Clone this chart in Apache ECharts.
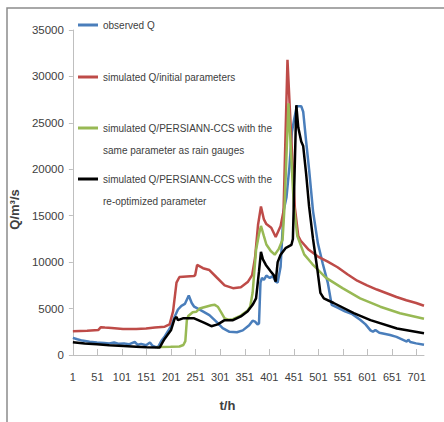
<!DOCTYPE html>
<html>
<head>
<meta charset="utf-8">
<script src="https://cdn.jsdelivr.net/npm/echarts@6/dist/echarts.min.js"></script>
<style>html,body{margin:0;padding:0;background:#fff}#c{width:444px;height:422px}</style>
</head>
<body>
<div id="c"></div>
<script>
var xTickLabels = [1, 51, 101, 151, 201, 251, 301, 351, 401, 451, 501, 551, 601, 651, 701];
var yTicks = [0, 5000, 10000, 15000, 20000, 25000, 30000, 35000];
var seriesNames = ['observed Q', 'simulated Q/initial parameters', 'simulated Q/PERSIANN-CCS with the\nsame parameter as rain gauges', 'simulated Q/PERSIANN-CCS with the\nre-optimized parameter'];

var obsHours = [1,10,20,35,50,56,65,75,85,95,105,115,127,133,140,150,158,163,170,175,181,188,195,201,208,215,222,229,237,243,248,262,279,293,306,320,335,347,360,367,372,377,380,383,386,390,395,402,408,414,418,424,430,436,442,447,452,457,466,470,476,482,490,500,510,520,528,540,555,570,586,597,607,612,617,625,647,660,681,684,688,700,716];
var obsQ = [1850,1700,1550,1430,1350,1330,1300,1250,1350,1200,1250,1150,1400,1100,1200,1050,1350,1000,850,900,1500,2000,2600,3100,4100,4900,5300,5500,6400,5600,5200,4800,4300,3600,2900,2500,2450,2650,3200,3700,3600,3300,3400,7800,8300,8100,8550,8300,8500,7900,7800,9500,15500,17000,20300,24000,25500,26800,26800,26200,23000,20000,15500,12000,9800,7800,5400,5100,4700,4400,3800,3300,2650,2500,2700,2400,2150,1950,1450,1650,1400,1250,1100];

var initHours = [1,30,53,58,66,80,103,130,150,168,188,198,205,212,218,247,250,254,266,279,293,310,327,343,357,366,372,378,384,390,395,405,414,424,430,438,446,453,460,465,480,500,520,540,560,580,600,620,640,660,680,700,716];
var initQ = [2550,2600,2700,3000,2950,2900,2800,2800,2850,2950,3050,3300,4700,7800,8400,8500,8600,9700,9350,9150,8400,7500,7200,7300,7850,8600,10500,14000,16000,14600,14100,13700,12700,13900,15500,31800,23000,15900,12800,12300,11400,10600,10050,9450,8700,8000,7500,7050,6650,6250,5900,5600,5300];

var persHours = [172,177,200,218,226,230,233,236,245,252,259,272,283,290,296,303,310,318,327,343,357,362,367,374,380,384,390,395,404,412,420,428,432,440,446,451,458,472,489,516,550,586,627,667,716];
var persQ = [800,850,880,920,1080,1500,3700,4200,4600,4650,5000,5200,5350,5400,5200,4600,3950,3800,3850,4250,4800,5200,6700,11300,13000,13900,12800,11900,11200,10800,11400,12400,16000,27100,21000,16000,12800,10840,9770,8330,7200,6100,5200,4500,3900];

var reoptHours = [1,25,50,75,104,130,151,178,183,188,201,208,212,215,225,248,269,283,296,310,327,343,357,367,374,380,384,388,394,404,410,414,418,424,434,446,449,456,460,466,470,476,482,490,499,505,512,532,573,607,661,716];
var reoptQ = [1370,1250,1150,1050,970,900,830,820,1300,1760,2700,3900,4100,3750,3950,3950,3450,3100,3300,3750,3750,4150,4700,5400,6100,9000,11100,10300,9700,9000,8600,7900,10000,10800,11500,11850,12500,26900,24500,23000,22500,19500,16000,12500,9150,6700,6100,5600,4500,3750,2850,2350];

function pairs(h, v) { return h.map(function (x, i) { return [x, v[i]]; }); }

var colors = ['#4A7EBB', '#BE4B48', '#98B954', '#000000'];
var font = "'Liberation Sans', Arial, sans-serif";
var txtColor = '#404040';
var axisColor = '#BFBFBF';

function mkLegend(name, top, multi) {
  return {
    data: [name], left: 78, top: top, padding: 0, itemWidth: 20, itemHeight: 3, icon: 'rect',
    formatter: function (n) { return multi ? '\n' + n : n; },
    textStyle: { fontFamily: font, fontSize: 10, color: txtColor, lineHeight: 22 }
  };
}

var chart = echarts.init(document.getElementById('c'), null, { renderer: 'svg' });
chart.setOption({
  animation: false,
  backgroundColor: '#fff',
  graphic: [{ type: 'rect', shape: { x: 7, y: 8, width: 460, height: 440 }, style: { fill: 'none', stroke: '#8C8C8C', lineWidth: 1.5 }, silent: true, z: -1 }],
  grid: { left: 71, right: 20, top: 30, bottom: 67 },
  legend: [mkLegend(seriesNames[0], 14, false), mkLegend(seriesNames[1], 66, false), mkLegend(seriesNames[2], 95, true), mkLegend(seriesNames[3], 146, true)],
  xAxis: {
    type: 'value', min: 1, max: 716,
    name: 't/h', nameLocation: 'middle', nameGap: 44,
    nameTextStyle: { fontFamily: font, fontSize: 13, fontWeight: 'bold', color: txtColor, padding: [0, 42, 0, 0] },
    axisLine: { lineStyle: { color: axisColor, width: 1 } },
    axisTick: { show: true, inside: true, length: 6, customValues: xTickLabels, lineStyle: { color: axisColor } },
    axisLabel: { customValues: xTickLabels, margin: 16, fontFamily: font, fontSize: 11, color: txtColor, formatter: function (v) { return String(v); } },
    splitLine: { show: false }
  },
  yAxis: {
    type: 'value', min: 0, max: 35000, interval: 5000,
    name: 'Q/m³/s', nameLocation: 'middle', nameRotate: 90, nameGap: 46,
    nameTextStyle: { fontFamily: font, fontSize: 13, fontWeight: 'bold', color: txtColor, padding: [0, 34, 0, 0] },
    axisLine: { show: true, lineStyle: { color: axisColor, width: 1 } },
    axisTick: { show: true, length: 4, lineStyle: { color: axisColor } },
    axisLabel: { margin: 9, fontFamily: font, fontSize: 11.5, color: txtColor, formatter: function (v) { return String(v); } },
    splitLine: { show: false }
  },
  series: [
    { name: seriesNames[0], type: 'line', data: pairs(obsHours, obsQ), showSymbol: false, color: colors[0], lineStyle: { width: 2.5, color: colors[0] } },
    { name: seriesNames[1], type: 'line', data: pairs(initHours, initQ), showSymbol: false, color: colors[1], lineStyle: { width: 2.5, color: colors[1] } },
    { name: seriesNames[2], type: 'line', data: pairs(persHours, persQ), showSymbol: false, color: colors[2], lineStyle: { width: 2.5, color: colors[2] } },
    { name: seriesNames[3], type: 'line', data: pairs(reoptHours, reoptQ), showSymbol: false, color: colors[3], lineStyle: { width: 2.5, color: colors[3] } }
  ]
});
</script>
</body>
</html>
